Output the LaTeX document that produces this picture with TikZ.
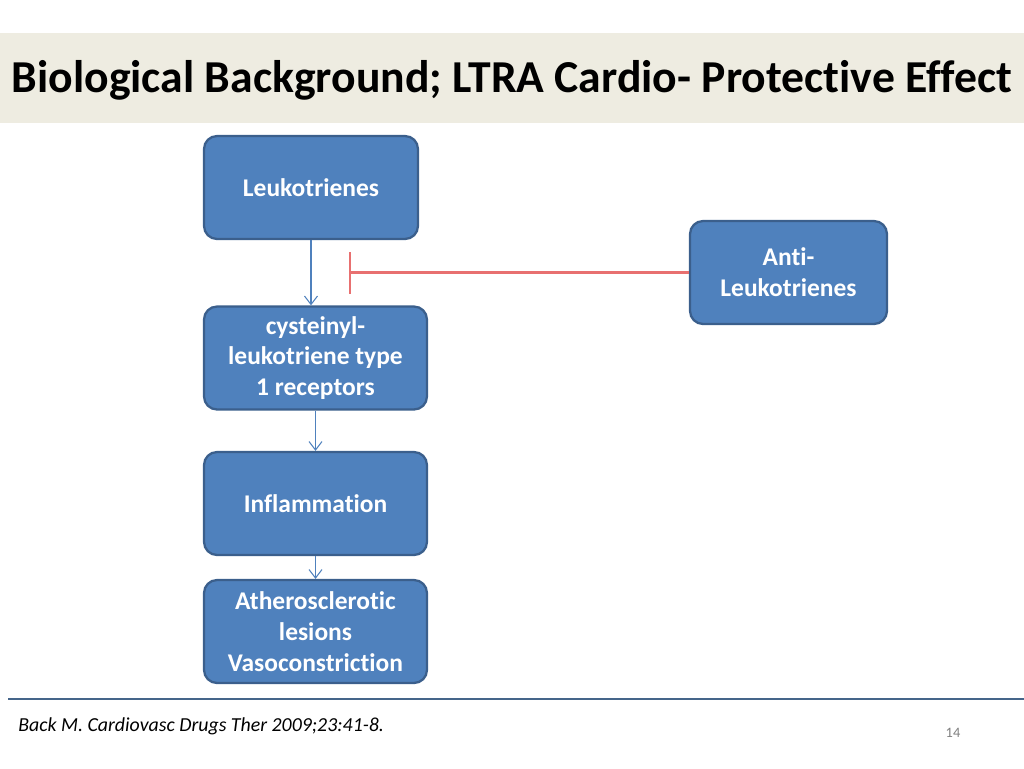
\documentclass[tikz,border=0pt]{standalone}
\usepackage{fontspec}
\setmainfont{Carlito}[Ligatures=NoCommon]
\usetikzlibrary{arrows.meta}

\definecolor{bande}{HTML}{EEECE1}
\definecolor{boite}{HTML}{4F81BD}
\definecolor{bord}{HTML}{3B5F8C}
\definecolor{inhib}{HTML}{E87070}
\definecolor{pied}{HTML}{45658A}

\tikzset{
	boxe/.style={draw=bord, fill=boite, line width=1.3pt, rounded corners=0.26cm,
		text=white, font=\fontsize{14.5}{17.6}\selectfont\bfseries, align=center,
		inner sep=0pt},
	fleche/.style={draw=boite, line width=0.6pt, -{Straight Barb[length=0.17cm, width=0.26cm]}},
	bloque/.style={draw=inhib, line width=1.2pt, -{Bar[width=0.84cm]}}
}

\begin{document}
\begin{tikzpicture}[x=0.02cm, y=-0.02cm]

	\useasboundingbox (0,0) rectangle (1024,768);

	\def\lb{4.28cm}
	\def\la{4.46cm}
	\def\h{2.06cm}

	% Bandeau du titre
	\fill[bande] (0,33) rectangle (1024,123);
	\node[font=\fontsize{26}{31}\selectfont\bfseries] (titre) at (512,80) {Biological Background; LTRA Cardio- Protective Effect};

	% Les boites
	\node[boxe, minimum width=\lb, minimum height=\h] (leuko) at (311,187.5) {Leukotrienes};
	\node[boxe, minimum width=3.94cm, minimum height=\h] (anti) at (788.5,272.5) {Anti-\\Leukotrienes};
	\node[boxe, minimum width=\la, minimum height=\h] (recep) at (315.5,358) {cysteinyl-\\leukotriene type\\1 receptors};
	\node[boxe, minimum width=\la, minimum height=\h] (inflam) at (315.5,503.5) {Inflammation};
	\node[boxe, minimum width=\la, minimum height=\h] (lesion) at (315.5,631.5) {Atherosclerotic\\lesions\\Vasoconstriction};

	% Fleches
	\draw[fleche] (leuko.south) -- (leuko.south |- recep.north);
	\draw[fleche] (recep.south) -- (inflam.north);
	\draw[fleche] (inflam.south) -- (lesion.north);

	% Inhibition
	\coordinate (stop) at (349,272.5);
	\draw[bloque] (anti.west) -- (stop);

	% Pied de page
	\draw[pied, line width=1.5pt] (8,699) -- (1024,699);
	\node[anchor=west, font=\fontsize{11.3}{13}\selectfont\itshape, inner sep=0pt] (ref) at (18,726) {Back M. Cardiovasc Drugs Ther 2009;23:41-8.};
	\node[text=gray, font=\fontsize{8.2}{10}\selectfont, inner sep=0pt] (page) at (953,733) {14};

\end{tikzpicture}
\end{document}
